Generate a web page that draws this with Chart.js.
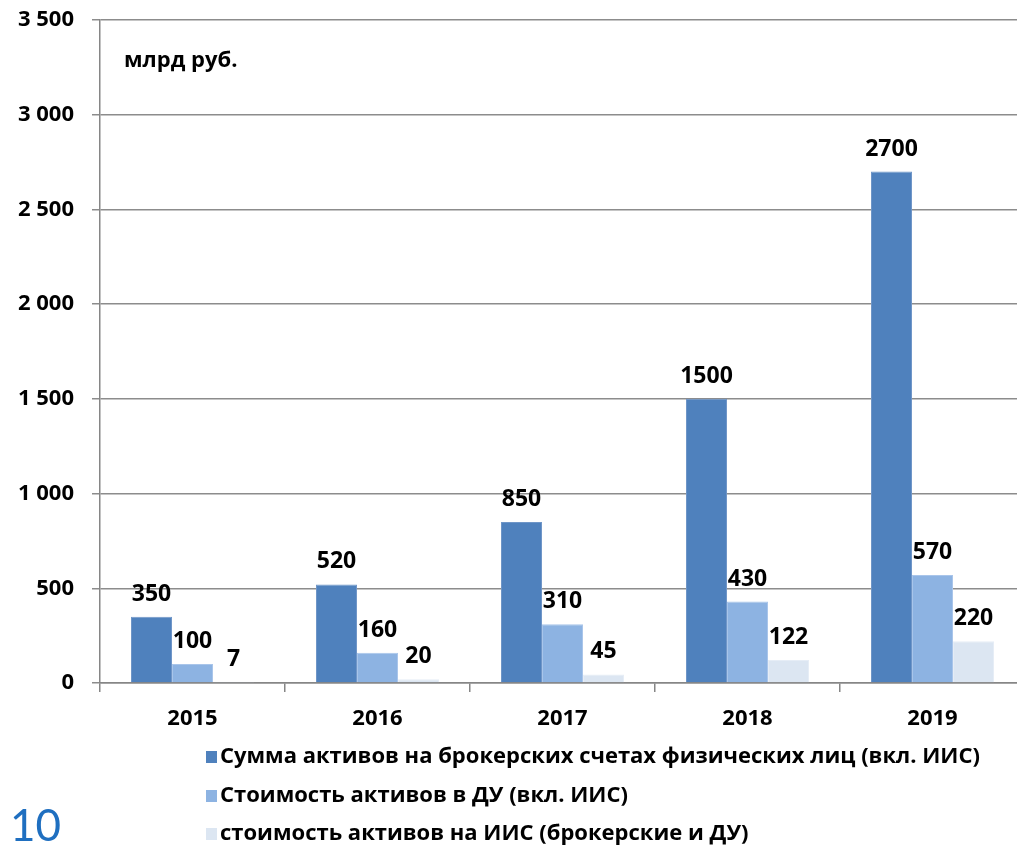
<!DOCTYPE html>
<html>
<head>
<meta charset="utf-8">
<title>Активы физических лиц</title>
<script src="https://cdn.jsdelivr.net/npm/chart.js@4.4.1/dist/chart.umd.min.js"></script>
<style>
  html, body { margin: 0; padding: 0; background: #ffffff; overflow: hidden; }
  #wrap { position: relative; width: 1017px; height: 846px; overflow: hidden; }
  #box { position: absolute; left: 0; top: 0; width: 1025px; height: 846px; }
  #pageNo { position: absolute; left: 10px; top: 802px; font-family: Lato, "Open Sans", sans-serif;
            font-size: 44px; color: #1F6FC0; line-height: 1; font-weight: 400; }
</style>
</head>
<body>
<div id="wrap">
  <div id="box"><canvas id="chart" width="1025" height="846"></canvas></div>
  <div id="pageNo">10</div>
</div>
<script>
const years = ['2015', '2016', '2017', '2018', '2019'];
const brokerAssets = [350, 520, 850, 1500, 2700];
const trustAssets = [100, 160, 310, 430, 570];
const iisAssets = [7, 20, 45, 122, 220];
const seriesNames = [
  'Сумма активов на брокерских счетах физических лиц (вкл. ИИС)',
  'Стоимость активов в ДУ (вкл. ИИС)',
  'стоимость активов на ИИС (брокерские и ДУ)'
];
const unitLabel = 'млрд руб.';
const pageNumber = '10';

const FONT = '"Open Sans", "DejaVu Sans", sans-serif';
const colors = ['#4F81BD', '#8DB3E2', '#DCE6F2'];
const edges = ['#6F96C8', '#A9C5EA', '#E6EDF6'];

// value labels above each bar
const valueLabels = {
  id: 'valueLabels',
  afterDatasetsDraw(chart) {
    const ctx = chart.ctx;
    ctx.save();
    ctx.font = 'bold 23px ' + FONT;
    ctx.fillStyle = '#000000';
    ctx.textAlign = 'center';
    ctx.textBaseline = 'alphabetic';
    chart.data.datasets.forEach((ds, i) => {
      chart.getDatasetMeta(i).data.forEach((bar, j) => {
        ctx.fillText(String(ds.data[j]), bar.x, bar.y - 16);
      });
    });
    ctx.restore();
  }
};

// unit caption inside the plot and the stacked legend under the axis
const extras = {
  id: 'extras',
  afterDraw(chart) {
    const ctx = chart.ctx;
    ctx.save();
    ctx.font = 'bold 22px ' + FONT;
    ctx.fillStyle = '#000000';
    ctx.textBaseline = 'middle';
    ctx.textAlign = 'left';
    ctx.fillText(unitLabel, 124, 61);

    const rows = [757, 796, 834];
    chart.data.datasets.forEach((ds, i) => {
      const y = rows[i];
      ctx.fillStyle = ds.backgroundColor;
      ctx.fillRect(206, y - 6, 11, 12);
      ctx.fillStyle = '#000000';
      ctx.font = 'bold 22px ' + FONT;
      ctx.fillText(ds.label, 220, y);
    });
    ctx.restore();
  }
};

document.getElementById('pageNo').textContent = pageNumber;

new Chart(document.getElementById('chart'), {
  type: 'bar',
  data: {
    labels: years,
    datasets: [brokerAssets, trustAssets, iisAssets].map((values, i) => ({
      label: seriesNames[i],
      data: values,
      backgroundColor: colors[i],
      borderColor: edges[i],
      borderWidth: 1,
      categoryPercentage: 0.665,
      barPercentage: 1.0
    }))
  },
  options: {
    responsive: false,
    animation: false,
    devicePixelRatio: 1,
    layout: { padding: { top: 20, right: 0, bottom: 103, left: 0 } },
    plugins: {
      legend: { display: false },
      tooltip: { enabled: false }
    },
    scales: {
      x: {
        offset: true,
        grid: { display: true, drawOnChartArea: false, drawTicks: true, tickLength: 9, color: '#868686', lineWidth: 1.5 },
        border: { display: true, color: '#868686', width: 1.5 },
        ticks: { font: { family: FONT, size: 22, weight: 'bold' }, color: '#000000', padding: 14 },
        afterFit(scale) { scale.height = 60; }
      },
      y: {
        min: 0,
        max: 3500,
        grid: { color: '#8C8C8C', lineWidth: 1.5, drawTicks: true, tickLength: 8 },
        border: { display: true, color: '#868686', width: 1.5 },
        ticks: {
          stepSize: 500,
          padding: 18,
          color: '#000000',
          font: { family: FONT, size: 22, weight: 'bold' },
          callback: v => String(v).replace(/\B(?=(\d{3})+(?!\d))/g, ' ')
        },
        afterFit(scale) {
          scale.width = 100;
          scale.paddingTop = 12;
          scale.paddingBottom = 12;
        }
      }
    }
  },
  plugins: [valueLabels, extras]
});
</script>
</body>
</html>
